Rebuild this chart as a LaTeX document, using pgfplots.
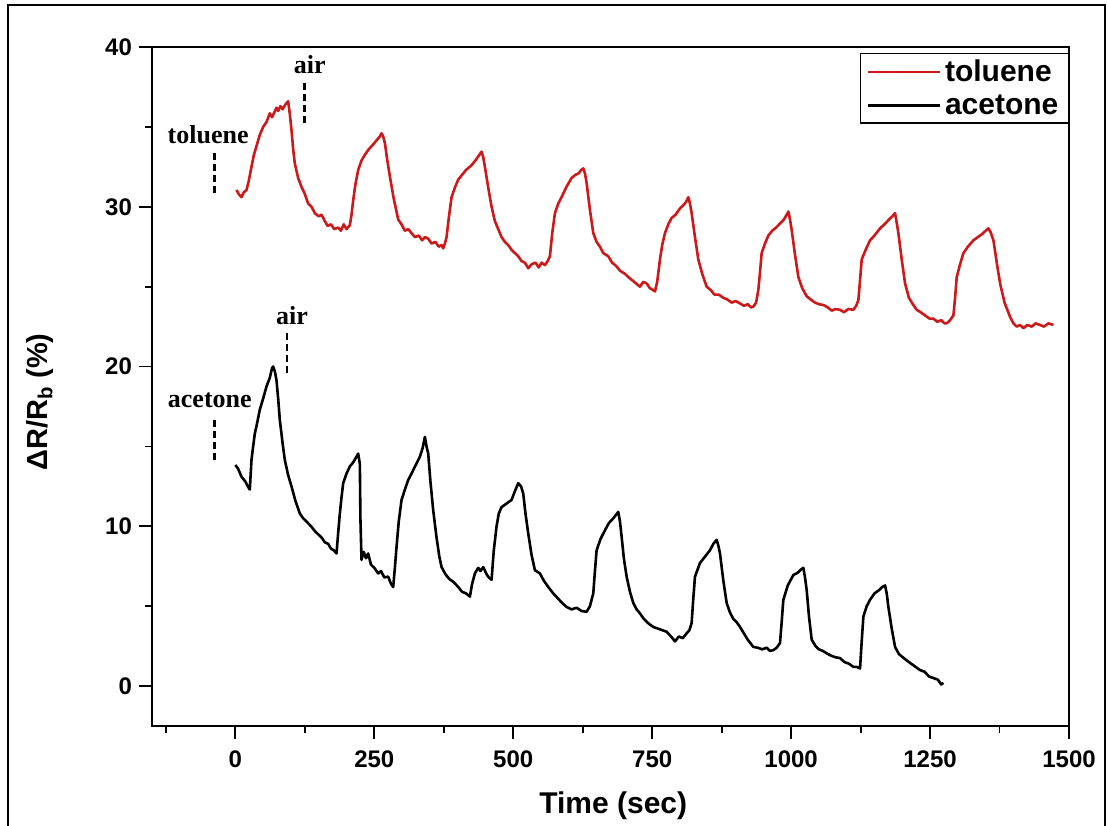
\documentclass[border=0pt]{standalone}
\usepackage{pgfplots}
\pgfplotsset{compat=1.18}
\usepackage{fontspec}
\setmainfont{Liberation Sans}
\newfontfamily\serifbf{Liberation Serif}
\definecolor{tolred}{rgb}{0.80,0.10,0.10}

\begin{document}
\begin{tikzpicture}
\useasboundingbox (-76pt,-49.5pt) rectangle (478pt,363pt);
\draw[line width=0.8pt] (-72pt,-60pt) -- (-72pt,360.5pt) -- (476.5pt,360.5pt) -- (476.5pt,-60pt);
\begin{axis}[
 at={(0pt,0pt)}, anchor=south west, scale only axis,
 width=458.5pt, height=339.5pt,
 xmin=-150, xmax=1500, ymin=-2.5, ymax=40,
 xtick={0,250,...,1500}, minor xtick={-125,125,...,1375},
 ytick={0,10,...,40}, minor ytick={5,15,25,35},
 tick pos=left, tick align=outside,
 major tick length=6.5pt, minor tick length=3.5pt,
 every tick/.style={black, line width=0.9pt},
 axis line style={line width=1pt},
 /pgf/number format/1000 sep={},
 /pgf/number format/assume math mode=true,
 tick label style={font=\fontsize{12}{14}\selectfont\bfseries},
 xticklabel style={yshift=-2.5pt},
 xlabel={Time (sec)},
 ylabel={ΔR/R\textsubscript{b} (\%)},
 every axis x label/.style={at={(axis description cs:0.503,-0.117)}, anchor=center,
   font=\fontsize{15}{18}\selectfont\bfseries},
 every axis y label/.style={at={(axis description cs:-0.122,0.477)}, rotate=90, anchor=center,
   font=\fontsize{14.5}{17}\selectfont\bfseries},
 legend style={at={(axis description cs:1,0.991)}, anchor=north east, draw=black, line width=0.6pt,
   font=\fontsize{15}{18}\selectfont\bfseries, inner xsep=3pt, inner ysep=1pt, row sep=1pt},
 legend cell align=left,
 legend image code/.code={\draw[#1] (0pt,0pt) -- (36pt,0pt);},
]
\addplot[tolred, line width=1.3pt, line join=round] coordinates {
(2,31.05) (6,30.8) (11,30.6) (15,30.9) (20,31.05) (24,31.6) (29,32.5) (33,33.2) (38,33.8) (44,34.5) (50,35.0) (56,35.3)
(62,35.85) (66,35.6) (70,35.9) (74,36.2) (77,36.0) (81,36.3) (85,36.1) (90,36.4) (95,36.6) (98,35.8) (101,34.8)
(104,33.6) (107,32.7) (113,31.8) (119,31.25) (125,30.8) (131,30.2) (137,30.0) (143,29.6) (150,29.4) (155,29.5)
(161,29.1) (166,28.8) (172,28.9) (178,28.6) (185,28.7) (190,28.5) (195,28.9) (200,28.6) (206,28.85)
(209,29.5) (212,30.4) (216,31.4) (221,32.3) (227,32.9) (233,33.25) (240,33.6) (248,33.9) (255,34.2) (260,34.4)
(263,34.6) (266,34.4) (269,34.0) (273,33.0) (278,31.9) (285,30.5) (293,29.2) (299,28.9) (305,28.5) (311,28.6)
(317,28.35) (323,28.1) (330,28.2) (336,27.9) (341,28.1) (347,28.0) (353,27.7) (360,27.8) (366,27.5) (371,27.6)
(374,27.4) (377,27.7)
(380,28.1) (384,29.3) (389,30.6) (395,31.2) (401,31.7) (408,32.0) (415,32.3) (425,32.6) (432,32.9) (438,33.2)
(443,33.45) (446,33.1) (449,32.5) (455,31.2) (461,30.0) (467,29.1) (473,28.6) (479,28.1) (485,27.8) (491,27.6)
(497,27.3) (503,27.1) (509,26.9) (515,26.6) (521,26.5) (527,26.15) (533,26.4) (540,26.5) (546,26.2) (551,26.5)
(557,26.35) (562,26.6)
(566,26.9) (570,28.3) (575,29.6) (581,30.2) (587,30.6) (595,31.2) (605,31.8) (612,32.0) (618,32.1) (622,32.3)
(626,32.4) (629,32.1) (632,31.5) (638,29.8) (644,28.35) (650,27.8) (656,27.5) (662,27.1) (671,26.9) (678,26.5)
(685,26.3) (692,26.0) (701,25.8) (707,25.6) (714,25.4) (721,25.2) (728,25.0) (734,25.3) (740,25.2) (746,24.9)
(751,24.8) (755,24.7) (759,25.3)
(764,26.7) (768,27.6) (773,28.35) (779,28.9) (785,29.3) (792,29.5) (800,29.9) (806,30.1) (811,30.3) (815,30.6)
(818,30.2) (821,29.6) (827,28.1) (833,26.7) (840,25.8) (848,25.0) (855,24.8) (862,24.5) (870,24.5) (878,24.3)
(885,24.2) (893,24.0) (900,24.1) (908,23.95) (915,23.8) (922,23.9) (928,23.7) (932,23.75) (937,24.0)
(941,24.8) (944,25.9) (947,27.1) (953,27.7) (959,28.2) (966,28.5) (973,28.7) (980,28.95) (987,29.2) (992,29.5)
(995,29.7) (998,29.2) (1001,28.55) (1007,27.0) (1013,25.6) (1020,24.9) (1028,24.4) (1035,24.2) (1043,24.0)
(1050,23.9) (1058,23.85) (1066,23.7) (1073,23.5) (1080,23.6) (1088,23.55) (1095,23.4) (1103,23.6) (1112,23.55)
(1117,23.8)
(1121,24.15) (1124,25.4) (1127,26.7) (1134,27.3) (1142,27.9) (1150,28.2) (1160,28.65) (1168,28.9) (1176,29.2)
(1182,29.4) (1187,29.6) (1190,29.0) (1193,28.35) (1199,26.7) (1205,25.2) (1212,24.3) (1219,23.9) (1226,23.55)
(1233,23.4) (1241,23.2) (1249,23.0) (1256,23.0) (1263,22.8) (1270,22.9) (1276,22.7) (1280,22.7) (1286,22.9)
(1292,23.2) (1295,24.3) (1298,25.6) (1304,26.4) (1310,27.1) (1318,27.5) (1328,27.9) (1336,28.1) (1344,28.3)
(1350,28.5) (1355,28.65) (1359,28.4) (1364,27.9) (1370,26.5) (1376,25.2) (1384,24.0) (1394,23.1) (1400,22.7)
(1406,22.5) (1412,22.6) (1418,22.4) (1425,22.6) (1433,22.5) (1440,22.7) (1448,22.6) (1455,22.5) (1463,22.7)
(1472,22.6)
};
\addlegendentry{toluene}
\addplot[black, line width=1.3pt, line join=round] coordinates {
(0,13.84) (5,13.6) (11,13.1) (18,12.8) (24,12.4) (26,12.3) (29,14.15) (32,15.0) (35,15.8) (40,16.6) (44,17.3)
(50,18.0) (56,18.75) (62,19.3) (66,19.9) (68,20.0) (71,19.7) (74,19.15) (77,18.0) (80,16.65) (85,15.2) (89,14.15)
(95,13.2) (101,12.5) (108,11.6) (116,10.8) (122,10.5) (128,10.3) (137,9.97) (143,9.7) (149,9.5) (155,9.3) (161,9.0)
(167,8.9) (172,8.6) (177,8.5) (182,8.3)
(185,9.6) (188,10.8) (191,11.8) (194,12.7) (200,13.3) (206,13.75) (212,14.0) (217,14.3) (221,14.55) (224,13.9)
(225,10.5) (227,7.9) (231,8.4) (235,8.0) (239,8.3) (244,7.6) (250,7.4) (257,7.05) (262,7.2) (268,6.8) (275,6.85)
(280,6.4) (284,6.2)
(287,7.4) (290,8.7) (294,10.3) (299,11.65) (306,12.4) (311,12.9) (317,13.3) (324,13.8) (332,14.35) (337,14.9)
(341,15.6) (344,15.0) (347,14.55) (351,12.8) (356,11.0) (362,9.3) (367,8.1) (371,7.45) (378,7.0) (385,6.7)
(393,6.5) (401,6.2) (408,5.9) (415,5.8) (422,5.6) (426,6.4) (431,7.05) (437,7.4) (441,7.2) (446,7.45) (452,7.0)
(456,6.8) (461,6.65)
(465,8.5) (470,10.0) (474,10.8) (479,11.2) (487,11.4) (497,11.65) (503,12.2) (509,12.7) (514,12.5) (518,12.05)
(522,10.8) (527,9.55) (533,8.2) (539,7.25) (548,7.05) (555,6.6) (563,6.2) (572,5.8) (580,5.5) (588,5.2) (596,4.95)
(605,4.8) (614,4.9) (623,4.7) (632,4.65) (638,5.0) (644,5.8)
(647,7.2) (650,8.5) (657,9.2) (665,9.75) (672,10.2) (680,10.5) (689,10.9) (692,10.3) (695,9.35) (699,8.0)
(704,6.85) (710,5.9) (716,5.2) (722,4.8) (728,4.55) (735,4.2) (744,3.9) (752,3.7) (760,3.6) (768,3.5) (776,3.4)
(784,3.1) (791,2.8) (798,3.1) (805,3.0) (812,3.3) (817,3.5) (821,3.95)
(824,5.5) (827,6.85) (836,7.7) (845,8.1) (854,8.5) (860,8.9) (866,9.15) (869,8.8) (872,8.3) (878,6.6) (884,5.2)
(890,4.6) (896,4.2) (902,4.0) (908,3.7) (915,3.3) (922,2.9) (932,2.45) (940,2.4) (948,2.3) (956,2.4) (962,2.2)
(968,2.25) (974,2.4) (980,2.7)
(983,4.0) (986,5.4) (994,6.3) (1004,6.95) (1012,7.1) (1018,7.3) (1022,7.4) (1025,6.8) (1028,6.0) (1032,4.4)
(1037,2.9) (1044,2.5) (1050,2.3) (1057,2.2) (1064,2.05) (1072,1.9) (1080,1.8) (1088,1.75) (1096,1.5) (1104,1.4)
(1112,1.2) (1118,1.2) (1124,1.1)
(1127,2.8) (1130,4.35) (1136,5.0) (1142,5.4) (1150,5.8) (1158,6.0) (1164,6.2) (1169,6.3) (1172,5.8) (1175,4.95)
(1181,3.6) (1187,2.45) (1194,2.0) (1201,1.8) (1208,1.6) (1216,1.4) (1224,1.2) (1232,1.0) (1240,0.9) (1248,0.6)
(1256,0.5) (1264,0.4) (1270,0.1) (1274,0.2)
};
\addlegendentry{acetone}
% annotation markers
\addplot[forget plot, black, line width=1.4pt, dash pattern=on 3.5pt off 2pt] coordinates {(-37,33.37) (-37,30.74)};
\addplot[forget plot, black, line width=1.4pt, dash pattern=on 3.5pt off 2pt] coordinates {(125,37.75) (125,35.1)};
\addplot[forget plot, black, line width=1.4pt, dash pattern=on 3.5pt off 2pt] coordinates {(93,22.1) (93,19.47)};
\addplot[forget plot, black, line width=1.4pt, dash pattern=on 3.5pt off 2pt] coordinates {(-37,16.65) (-37,14.0)};
\node[font=\serifbf\bfseries\fontsize{13}{15}\selectfont] at (axis cs:-49,34.5) {toluene};
\node[font=\serifbf\bfseries\fontsize{13}{15}\selectfont] at (axis cs:134,38.9) {air};
\node[font=\serifbf\bfseries\fontsize{13}{15}\selectfont] at (axis cs:102,23.2) {air};
\node[font=\serifbf\bfseries\fontsize{13}{15}\selectfont] at (axis cs:-46,17.9) {acetone};
\end{axis}
\end{tikzpicture}
\end{document}
